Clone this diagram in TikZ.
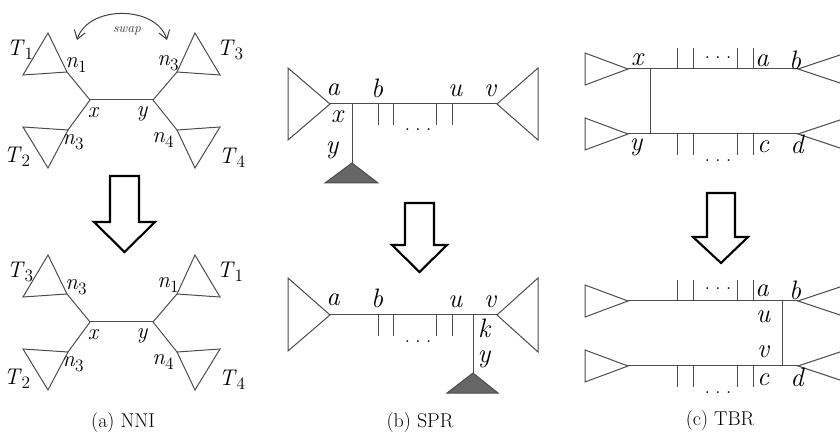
\documentclass[tikz,border=0pt]{standalone}
\usepackage{tikz}
\usetikzlibrary{arrows.meta}

\newcommand{\tsub}[2]{\textit{#1}\raisebox{-0.45ex}{\fontsize{13}{13}\selectfont #2}}
\newcommand{\threedots}{.\hspace{0.22em}.\hspace{0.22em}.}

\begin{document}
\begin{tikzpicture}[
    x=0.75pt, y=-0.75pt,
    every node/.style={inner sep=0pt},
    edge/.style={black!70, line width=0.75pt},
    subtree/.style={edge, line join=miter},
    pruned/.style={edge, fill=black!60},
    bigarrow/.style={draw, line width=1.6pt},
    swaparrow/.style={{Straight Barb[length=2.2mm, width=3mm]}-{Straight Barb[length=2.2mm, width=3mm]}, black!75, line width=0.75pt},
    nnilab/.style={font=\fontsize{17}{17}\selectfont},
    nnivar/.style={font=\fontsize{17}{17}\selectfont\itshape},
    varlab/.style={font=\fontsize{20}{20}\selectfont\itshape},
    dotlab/.style={font=\fontsize{17}{17}\selectfont},
    swaplab/.style={font=\fontsize{10}{10}\selectfont\itshape, black!75},
    captxt/.style={font=\fontsize{15}{15}\selectfont}
]
\useasboundingbox (0,0) rectangle (840,442);
\clip (0,0) rectangle (840,442);

% ════════════════════════════════════════
% (a) NNI, before
% ════════════════════════════════════════
\coordinate (x1) at (90,100);
\coordinate (y1) at (153,100);
\coordinate (p1) at (67,72);
\coordinate (q1) at (177,72);
\coordinate (r1) at (68,130);
\coordinate (s1) at (177,130);

\draw[subtree] (p1) -- (48,33) -- (23,75) -- cycle;
\draw[subtree] (q1) -- (195,33) -- (220,75) -- cycle;
\draw[subtree] (r1) -- (48,168) -- (23,127) -- cycle;
\draw[subtree] (s1) -- (195,168) -- (220,127) -- cycle;
\draw[edge] (p1) -- (x1);
\draw[edge] (r1) -- (x1);
\draw[edge] (x1) -- (y1);
\draw[edge] (q1) -- (y1);
\draw[edge] (s1) -- (y1);

\node[nnilab] (T1a) at (20,50) {\tsub{T}{1}};
\node[nnilab] (T3a) at (230,50) {\tsub{T}{3}};
\node[nnilab] (T2a) at (17,157) {\tsub{T}{2}};
\node[nnilab] (T4a) at (232,158) {\tsub{T}{4}};
\node[nnilab] (n1a) at (76,65) {\tsub{n}{1}};
\node[nnilab] (n3a) at (168,63) {\tsub{n}{3}};
\node[nnilab] (n3c) at (73,142) {\tsub{n}{3}};
\node[nnilab] (n4a) at (163,140) {\tsub{n}{4}};
\node[nnivar] (xa) at (93,113) {x};
\node[nnivar] (ya) at (142,114) {y};

% ── swap ──
\coordinate (swapL) at (77,40);
\coordinate (swapR) at (167,40);
\draw[swaparrow] (swapL) .. controls (88,5) and (156,5) .. (swapR);
\node[swaplab] (swap) at (127,31) {swap};

\draw[bigarrow] (110,176) -- (139,176) -- (139,222) -- (155,222) -- (124.5,252) -- (94,222) -- (110,222) -- cycle;

% ════════════════════════════════════════
% (a) NNI, after
% ════════════════════════════════════════
\coordinate (x2) at (90,322);
\coordinate (y2) at (153,322);
\coordinate (p2) at (67,294);
\coordinate (q2) at (177,294);
\coordinate (r2) at (68,352);
\coordinate (s2) at (177,352);

\draw[subtree] (p2) -- (48,255) -- (23,297) -- cycle;
\draw[subtree] (q2) -- (195,255) -- (220,297) -- cycle;
\draw[subtree] (r2) -- (48,390) -- (23,349) -- cycle;
\draw[subtree] (s2) -- (195,390) -- (220,349) -- cycle;
\draw[edge] (p2) -- (x2);
\draw[edge] (r2) -- (x2);
\draw[edge] (x2) -- (y2);
\draw[edge] (q2) -- (y2);
\draw[edge] (s2) -- (y2);

\node[nnilab] (T3b) at (20,272) {\tsub{T}{3}};
\node[nnilab] (T1b) at (230,272) {\tsub{T}{1}};
\node[nnilab] (T2b) at (17,379) {\tsub{T}{2}};
\node[nnilab] (T4b) at (232,380) {\tsub{T}{4}};
\node[nnilab] (n3b) at (76,287) {\tsub{n}{3}};
\node[nnilab] (n1b) at (168,285) {\tsub{n}{1}};
\node[nnilab] (n3d) at (73,364) {\tsub{n}{3}};
\node[nnilab] (n4b) at (163,362) {\tsub{n}{4}};
\node[nnivar] (xb) at (93,335) {x};
\node[nnivar] (yb) at (142,336) {y};

\node[captxt] (capa) at (123,423) {(a) NNI};

% ════════════════════════════════════════
% (b) SPR, before
% ════════════════════════════════════════
\coordinate (sa1) at (330,104);
\coordinate (sx1) at (352,104);
\coordinate (sv1) at (497,104);
\coordinate (sy1) at (352,163);

\draw[subtree] (sa1) -- (288,68) -- (288,140) -- cycle;
\draw[subtree] (sv1) -- (538,68) -- (538,140) -- cycle;
\draw[edge] (sa1) -- (sv1);
\draw[edge] (sx1) -- (sy1);
\draw[pruned] (sy1) -- (378,183) -- (325,183) -- cycle;
\draw[edge] (378,104) -- (378,125) (393,104) -- (393,125)
            (436,104) -- (436,125) (452,104) -- (452,125);

\node[varlab] (la1) at (333,90) {a};
\node[varlab] (lb1) at (377,88) {b};
\node[varlab] (lu1) at (455,91) {u};
\node[varlab] (lv1) at (490,91) {v};
\node[varlab] (lx1) at (337,117) {x};
\node[varlab] (ly1) at (332,150) {y};
\node[dotlab] (ld1) at (418,130) {\threedots};

\draw[bigarrow] (405,203) -- (434,203) -- (434,245) -- (447,245) -- (419.5,272) -- (392,245) -- (405,245) -- cycle;

% ════════════════════════════════════════
% (b) SPR, after
% ════════════════════════════════════════
\coordinate (sa2) at (330,315);
\coordinate (sk2) at (473,315);
\coordinate (sv2) at (497,315);
\coordinate (sy2) at (473,373);

\draw[subtree] (sa2) -- (288,278) -- (288,351) -- cycle;
\draw[subtree] (sv2) -- (538,278) -- (538,352) -- cycle;
\draw[edge] (sa2) -- (sv2);
\draw[edge] (sk2) -- (sy2);
\draw[pruned] (sy2) -- (498,393) -- (447,393) -- cycle;
\draw[edge] (378,315) -- (378,336) (393,315) -- (393,336)
            (436,315) -- (436,336) (452,315) -- (452,336);

\node[varlab] (la2) at (333,300) {a};
\node[varlab] (lb2) at (377,298) {b};
\node[varlab] (lu2) at (455,302) {u};
\node[varlab] (lv2) at (490,302) {v};
\node[varlab] (lk2) at (484,328) {k};
\node[varlab] (ly2) at (484,359) {y};
\node[dotlab] (ld2) at (418,342) {\threedots};

\node[captxt] (capb) at (420,423) {(b) SPR};

% ════════════════════════════════════════
% (c) TBR, before
% ════════════════════════════════════════
\coordinate (tx1) at (628,69);
\coordinate (tj1) at (650,69);
\coordinate (tb1) at (798,69);
\coordinate (ty1) at (628,134);
\coordinate (tk1) at (650,134);
\coordinate (td1) at (798,134);

\draw[subtree] (tx1) -- (585,53) -- (585,85) -- cycle;
\draw[subtree] (ty1) -- (585,118) -- (585,150) -- cycle;
\draw[subtree] (tb1) -- (852,51) -- (852,87) -- cycle;
\draw[subtree] (td1) -- (852,116) -- (852,152) -- cycle;
\draw[edge] (tx1) -- (tb1);
\draw[edge] (ty1) -- (td1);
\draw[edge] (tj1) -- (tk1);
\draw[edge] (677,69) -- (677,48) (693,69) -- (693,48)
            (737,69) -- (737,48) (753,69) -- (753,48);
\draw[edge] (677,134) -- (677,155) (693,134) -- (693,155)
            (737,134) -- (737,155) (753,134) -- (753,155);

\node[varlab] (tlx1) at (637,60) {x};
\node[varlab] (tla1) at (762,61) {a};
\node[varlab] (tlb1) at (795,60) {b};
\node[varlab] (tly1) at (636,147) {y};
\node[varlab] (tlc1) at (763,147) {c};
\node[varlab] (tld1) at (797,144) {d};
\node[dotlab] (tdu1) at (718,58) {\threedots};
\node[dotlab] (tdl1) at (718,161) {\threedots};

\draw[bigarrow] (707,193) -- (735,193) -- (735,237) -- (748,237) -- (721,263) -- (693,237) -- (707,237) -- cycle;

% ════════════════════════════════════════
% (c) TBR, after
% ════════════════════════════════════════
\coordinate (tx2) at (628,301);
\coordinate (tu2) at (782,301);
\coordinate (tb2) at (798,301);
\coordinate (ty2) at (628,366);
\coordinate (tv2) at (782,366);
\coordinate (td2) at (798,366);

\draw[subtree] (tx2) -- (585,285) -- (585,317) -- cycle;
\draw[subtree] (ty2) -- (585,350) -- (585,382) -- cycle;
\draw[subtree] (tb2) -- (852,283) -- (852,319) -- cycle;
\draw[subtree] (td2) -- (852,348) -- (852,384) -- cycle;
\draw[edge] (tx2) -- (tb2);
\draw[edge] (ty2) -- (td2);
\draw[edge] (tu2) -- (tv2);
\draw[edge] (677,301) -- (677,280) (693,301) -- (693,280)
            (737,301) -- (737,280) (753,301) -- (753,280);
\draw[edge] (677,366) -- (677,387) (693,366) -- (693,387)
            (737,366) -- (737,387) (753,366) -- (753,387);

\node[varlab] (tla2) at (762,291) {a};
\node[varlab] (tlb2) at (795,290) {b};
\node[varlab] (tlu2) at (763,317) {u};
\node[varlab] (tlv2) at (763,352) {v};
\node[varlab] (tlc2) at (763,380) {c};
\node[varlab] (tld2) at (797,377) {d};
\node[dotlab] (tdu2) at (718,289) {\threedots};
\node[dotlab] (tdl2) at (718,393) {\threedots};

\node[captxt] (capc) at (720,421) {(c) TBR};

\end{tikzpicture}
\end{document}
